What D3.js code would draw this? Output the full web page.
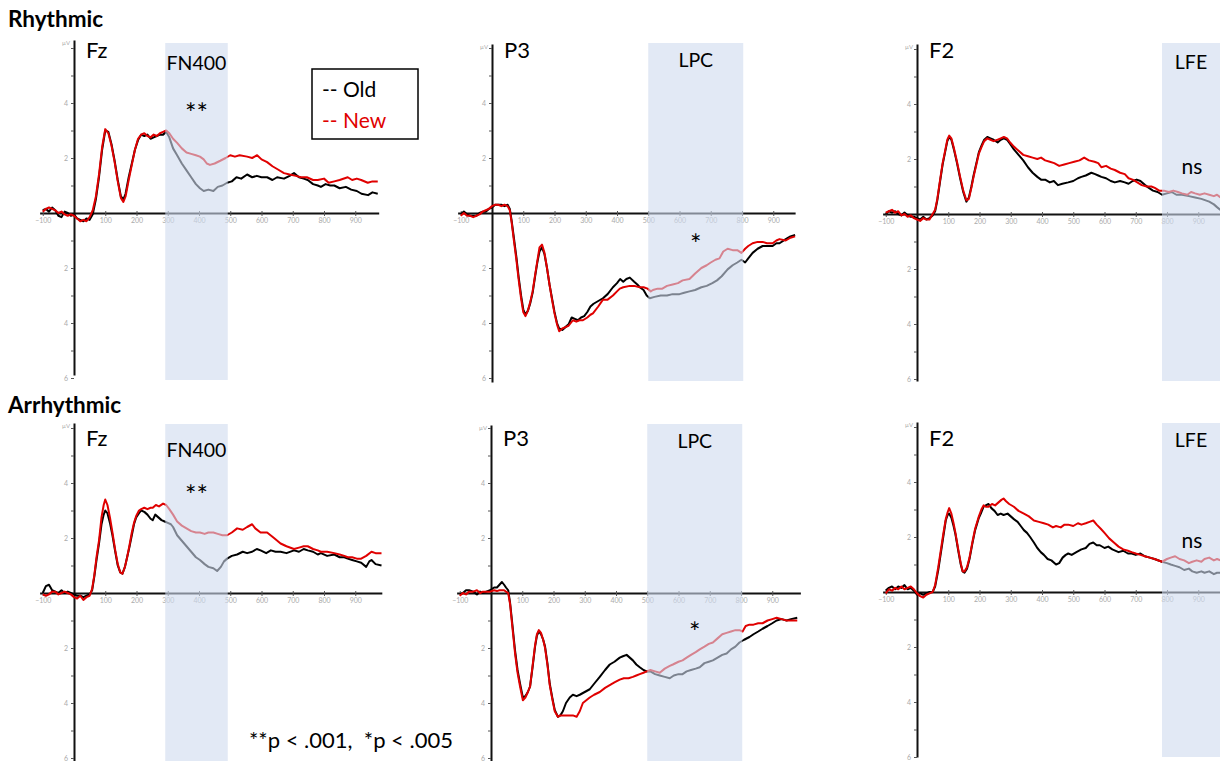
<!DOCTYPE html>
<html>
<head>
<meta charset="utf-8">
<script src="https://cdn.jsdelivr.net/npm/d3@7"></script>
<style>
  body { margin: 0; background: #fff; }
  text { font-family: Lato, "Open Sans", sans-serif; white-space: pre; }
</style>
</head>
<body>
<svg id="chart" width="1220" height="761"></svg>
<script>
// ---- data (ms, µV) ----
const rows = ["Rhythmic", "Arrhythmic"];
const electrodes = ["Fz", "P3", "F2"];
const components = ["FN400", "LPC", "LFE"];
const marks = ["**", "*", "ns"];
const legendLabels = ["-- Old", "-- New"];
const footnote = "**p < .001,  *p < .005";
const xTicks = [-100, 100, 200, 300, 400, 500, 600, 700, 800, 900];
const yTicks = [-6, -5, -4, -3, -2, -1, 1, 2, 3, 4, 5, 6];
const yLabelled = [4, 2, -2, -4, -6];

const fzRhyOld = [[-100,0.1],[-90,0.15],[-80,0.05],[-70,0.2],[-60,0.1],[-50,-0.1],[-40,-0.15],[-30,0.05],[-20,0.0],[-10,-0.1],[0,-0.05],[10,-0.2],[20,-0.25],[30,-0.3],[40,-0.2],[50,-0.25],[60,-0.05],[70,0.5],[80,1.3],[90,2.3],[100,3.0],[110,2.95],[120,2.5],[130,1.9],[140,1.2],[150,0.6],[158,0.5],[165,0.7],[175,1.3],[185,1.8],[195,2.3],[205,2.65],[215,2.85],[225,2.8],[235,2.85],[245,2.7],[255,2.75],[265,2.8],[275,2.85],[285,2.85],[295,2.95],[305,2.75],[317,2.35],[330,2.1],[345,1.8],[360,1.55],[375,1.3],[390,1.05],[403,0.9],[415,0.8],[430,0.85],[446,0.8],[460,0.95],[475,1.0],[490,1.1],[505,1.15],[520,1.3],[535,1.25],[554,1.4],[570,1.3],[585,1.35],[600,1.3],[618,1.3],[635,1.2],[650,1.3],[672,1.25],[690,1.35],[704,1.45],[720,1.3],[735,1.25],[748,1.2],[765,1.05],[780,1.0],[790,0.95],[805,1.05],[820,1.0],[833,1.0],[850,0.9],[870,0.95],[887,0.85],[905,0.8],[920,0.7],[941,0.65],[955,0.75],[972,0.7]];
const fzRhyNew = [[-100,0.05],[-90,0.15],[-80,0.2],[-70,0.15],[-60,0.1],[-50,0.0],[-40,0.05],[-30,-0.05],[-20,-0.1],[-10,-0.05],[0,-0.1],[10,-0.2],[20,-0.3],[30,-0.25],[40,-0.3],[50,-0.15],[60,0.1],[70,0.6],[80,1.4],[90,2.4],[100,3.05],[110,2.9],[120,2.45],[130,1.85],[140,1.15],[150,0.55],[158,0.4],[165,0.6],[175,1.2],[185,1.75],[195,2.3],[205,2.7],[215,2.85],[225,2.9],[235,2.8],[245,2.75],[255,2.85],[265,2.8],[275,2.9],[285,2.95],[295,3.0],[305,2.9],[317,2.7],[330,2.55],[345,2.35],[360,2.2],[375,2.15],[390,2.1],[403,2.05],[415,1.95],[425,1.8],[435,1.75],[450,1.8],[468,1.9],[485,2.0],[500,2.1],[515,2.05],[530,2.1],[554,2.05],[570,2.0],[586,2.1],[600,1.95],[618,1.85],[635,1.7],[650,1.6],[672,1.45],[690,1.4],[710,1.35],[726,1.3],[745,1.3],[765,1.2],[780,1.2],[800,1.25],[815,1.1],[833,1.15],[850,1.2],[876,1.3],[890,1.2],[905,1.25],[919,1.2],[940,1.1],[955,1.15],[972,1.15]];

const p3RhyOld = [[-100,-0.05],[-90,0.05],[-80,-0.05],[-70,-0.1],[-60,-0.1],[-50,-0.1],[-40,0.0],[-30,0.05],[-20,0.05],[-10,0.15],[0,0.2],[10,0.3],[20,0.3],[30,0.3],[40,0.25],[50,0.3],[57,0.15],[63,-0.3],[70,-0.9],[78,-1.6],[85,-2.3],[93,-3.0],[100,-3.5],[107,-3.7],[115,-3.55],[122,-3.3],[130,-2.9],[138,-2.3],[145,-1.8],[152,-1.4],[160,-1.25],[168,-1.5],[176,-2.0],[184,-2.6],[192,-3.1],[200,-3.6],[208,-4.0],[215,-4.2],[225,-4.25],[235,-4.15],[245,-4.05],[255,-3.8],[265,-3.85],[275,-3.9],[285,-3.8],[295,-3.75],[305,-3.6],[315,-3.4],[325,-3.3],[340,-3.2],[355,-3.1],[370,-2.95],[387,-2.7],[400,-2.55],[410,-2.4],[420,-2.5],[430,-2.4],[441,-2.35],[455,-2.5],[465,-2.6],[473,-2.7],[485,-2.8],[495,-3.0],[505,-3.1],[520,-3.05],[540,-3.0],[560,-3.0],[578,-2.95],[600,-2.95],[615,-2.9],[632,-2.85],[650,-2.8],[670,-2.7],[687,-2.65],[705,-2.55],[720,-2.45],[735,-2.3],[754,-2.05],[770,-1.9],[785,-1.8],[798,-1.7],[810,-1.8],[820,-1.65],[834,-1.45],[850,-1.3],[866,-1.2],[880,-1.2],[898,-1.2],[910,-1.1],[920,-1.1],[940,-0.95],[955,-0.85],[970,-0.8]];
const p3RhyNew = [[-100,-0.1],[-90,0.0],[-80,-0.1],[-70,-0.1],[-60,-0.15],[-50,-0.1],[-40,-0.05],[-30,0.05],[-20,0.1],[-10,0.15],[0,0.25],[10,0.3],[20,0.3],[30,0.25],[40,0.3],[50,0.25],[57,0.1],[63,-0.35],[70,-1.0],[78,-1.7],[85,-2.4],[93,-3.1],[100,-3.6],[107,-3.75],[115,-3.55],[122,-3.25],[130,-2.85],[138,-2.25],[145,-1.75],[152,-1.25],[160,-1.15],[168,-1.45],[176,-2.0],[184,-2.6],[192,-3.15],[200,-3.65],[208,-4.05],[215,-4.3],[225,-4.2],[235,-4.15],[245,-4.1],[259,-3.9],[270,-3.95],[280,-3.9],[291,-3.9],[305,-3.8],[315,-3.7],[323,-3.65],[340,-3.4],[355,-3.15],[370,-3.15],[387,-3.0],[400,-2.85],[409,-2.75],[420,-2.7],[441,-2.65],[455,-2.65],[473,-2.7],[485,-2.7],[498,-2.75],[508,-2.85],[515,-2.8],[530,-2.75],[545,-2.75],[560,-2.65],[578,-2.6],[595,-2.55],[610,-2.45],[632,-2.4],[650,-2.2],[670,-2.0],[687,-1.9],[700,-1.8],[715,-1.7],[728,-1.65],[740,-1.4],[754,-1.3],[770,-1.35],[785,-1.35],[798,-1.45],[810,-1.3],[820,-1.2],[834,-1.1],[850,-1.05],[866,-1.05],[880,-1.1],[898,-1.1],[910,-1.0],[920,-0.95],[940,-1.0],[955,-0.9],[970,-0.85]];

const f2RhyOld = [[-100,0.0],[-90,0.1],[-80,0.05],[-70,0.1],[-60,0.0],[-50,-0.05],[-40,0.05],[-30,-0.05],[-20,-0.1],[-10,-0.1],[0,-0.15],[10,-0.2],[20,-0.1],[30,-0.2],[40,-0.15],[50,-0.05],[58,0.1],[65,0.5],[74,1.2],[82,1.8],[90,2.25],[97,2.65],[103,2.8],[110,2.7],[118,2.35],[128,1.85],[138,1.3],[148,0.8],[158,0.45],[166,0.6],[174,1.0],[181,1.4],[190,1.85],[198,2.25],[207,2.5],[215,2.7],[225,2.8],[235,2.75],[245,2.7],[258,2.6],[268,2.7],[278,2.75],[288,2.7],[298,2.55],[310,2.35],[325,2.15],[340,1.95],[355,1.7],[370,1.5],[385,1.35],[397,1.25],[410,1.25],[425,1.15],[438,1.2],[451,1.05],[465,1.1],[484,1.15],[500,1.2],[515,1.3],[526,1.35],[540,1.4],[558,1.5],[570,1.45],[580,1.4],[590,1.35],[605,1.3],[620,1.2],[633,1.15],[650,1.2],[665,1.15],[677,1.1],[690,1.2],[703,1.25],[715,1.2],[730,1.05],[742,0.95],[755,0.85],[770,0.8],[784,0.7],[800,0.75],[815,0.8],[830,0.7],[848,0.7],[870,0.65],[890,0.6],[910,0.55],[935,0.45],[950,0.35],[960,0.25],[971,0.15]];
const f2RhyNew = [[-100,0.05],[-90,0.1],[-80,0.15],[-70,0.05],[-60,0.1],[-50,-0.05],[-40,0.0],[-30,-0.1],[-20,-0.05],[-10,-0.15],[0,-0.2],[10,-0.25],[20,-0.15],[30,-0.2],[40,-0.2],[50,0.0],[58,0.15],[65,0.55],[74,1.25],[82,1.85],[90,2.3],[97,2.7],[103,2.85],[110,2.75],[118,2.4],[128,1.9],[138,1.35],[148,0.85],[158,0.5],[166,0.55],[174,0.95],[181,1.35],[190,1.8],[198,2.2],[207,2.45],[215,2.65],[225,2.75],[235,2.7],[245,2.65],[258,2.7],[268,2.75],[278,2.8],[288,2.75],[298,2.6],[310,2.45],[325,2.3],[340,2.15],[355,2.1],[370,2.05],[385,2.0],[397,2.05],[410,1.95],[425,1.9],[439,1.85],[455,1.75],[471,1.8],[487,1.85],[503,1.9],[520,1.95],[535,2.05],[550,1.95],[568,1.9],[580,1.85],[590,1.7],[605,1.75],[620,1.65],[633,1.6],[650,1.5],[665,1.45],[677,1.3],[690,1.25],[705,1.15],[719,1.05],[735,1.0],[750,1.0],[761,0.95],[775,0.85],[790,0.85],[806,0.8],[820,0.85],[835,0.8],[848,0.75],[865,0.7],[877,0.8],[890,0.75],[905,0.7],[920,0.75],[935,0.7],[950,0.65],[960,0.7],[971,0.6]];

const fzArrOld = [[-100,0.0],[-90,0.25],[-80,0.3],[-70,0.1],[-60,0.05],[-50,0.0],[-40,0.1],[-30,0.0],[-20,0.05],[-10,0.0],[0,-0.05],[10,-0.1],[20,-0.1],[30,-0.15],[40,-0.1],[50,-0.05],[58,0.1],[65,0.6],[72,1.2],[80,1.8],[88,2.5],[95,2.85],[100,3.0],[107,2.9],[115,2.55],[123,2.1],[132,1.5],[140,1.0],[148,0.75],[155,0.7],[163,0.95],[170,1.3],[177,1.65],[185,2.1],[192,2.5],[199,2.75],[208,2.9],[215,3.0],[225,2.95],[235,2.85],[245,2.7],[252,2.65],[260,2.85],[270,2.75],[280,2.65],[290,2.6],[300,2.55],[310,2.5],[317,2.4],[330,2.1],[345,1.9],[360,1.7],[375,1.5],[390,1.3],[403,1.2],[418,1.05],[430,0.95],[446,0.9],[458,0.8],[470,0.95],[480,1.15],[490,1.25],[505,1.35],[522,1.4],[540,1.5],[554,1.45],[570,1.5],[585,1.6],[597,1.55],[615,1.45],[630,1.55],[645,1.5],[661,1.5],[680,1.45],[704,1.55],[720,1.5],[735,1.6],[748,1.55],[765,1.5],[780,1.4],[790,1.45],[810,1.35],[833,1.4],[850,1.3],[865,1.3],[876,1.25],[890,1.2],[905,1.15],[919,1.1],[935,0.95],[945,1.15],[952,1.2],[965,1.05],[984,1.0]];
const fzArrNew = [[-100,-0.05],[-90,-0.1],[-80,-0.05],[-70,0.05],[-60,0.05],[-50,-0.05],[-40,0.0],[-30,0.05],[-20,0.0],[-10,-0.05],[0,-0.15],[10,-0.2],[20,-0.1],[30,-0.25],[40,-0.15],[50,-0.1],[58,0.15],[65,0.65],[72,1.3],[80,1.9],[88,2.75],[95,3.2],[100,3.4],[107,3.2],[115,2.75],[123,2.2],[132,1.55],[140,1.05],[148,0.75],[155,0.7],[163,0.95],[170,1.3],[177,1.7],[185,2.2],[192,2.55],[199,2.8],[208,3.0],[215,3.05],[225,3.1],[235,3.05],[245,3.1],[252,3.1],[262,3.2],[272,3.15],[285,3.25],[295,3.2],[305,3.05],[317,2.85],[330,2.6],[345,2.45],[360,2.35],[375,2.25],[390,2.2],[403,2.2],[418,2.15],[430,2.2],[446,2.2],[460,2.15],[475,2.1],[490,2.1],[505,2.2],[522,2.35],[540,2.3],[554,2.4],[570,2.5],[580,2.35],[597,2.2],[618,2.2],[640,2.0],[661,1.8],[680,1.7],[704,1.6],[720,1.65],[735,1.7],[748,1.7],[765,1.6],[780,1.55],[790,1.5],[810,1.5],[833,1.45],[850,1.4],[865,1.35],[876,1.3],[890,1.3],[905,1.25],[919,1.25],[935,1.35],[952,1.5],[965,1.45],[984,1.45]];

const p3ArrOld = [[-100,-0.05],[-90,0.0],[-80,0.1],[-70,0.1],[-57,0.05],[-45,-0.05],[-35,0.05],[-26,0.0],[-15,0.05],[-3,0.1],[10,0.2],[19,0.2],[27,0.3],[35,0.4],[42,0.3],[48,0.2],[55,0.1],[61,-0.35],[68,-1.1],[77,-2.1],[85,-2.8],[93,-3.3],[102,-3.8],[110,-3.75],[118,-3.6],[125,-3.4],[133,-2.7],[141,-1.95],[147,-1.55],[153,-1.4],[160,-1.5],[167,-1.7],[173,-1.95],[181,-2.6],[188,-3.3],[196,-3.8],[204,-4.25],[214,-4.5],[222,-4.45],[230,-4.3],[240,-4.0],[252,-3.8],[262,-3.7],[274,-3.75],[284,-3.7],[300,-3.6],[316,-3.5],[330,-3.3],[348,-3.05],[365,-2.8],[380,-2.6],[395,-2.5],[412,-2.35],[422,-2.3],[434,-2.25],[444,-2.35],[454,-2.45],[465,-2.6],[476,-2.7],[488,-2.8],[498,-2.85],[510,-2.85],[525,-2.95],[540,-3.0],[556,-3.05],[572,-3.1],[585,-3.0],[600,-2.95],[613,-2.95],[626,-2.85],[640,-2.8],[655,-2.75],[668,-2.7],[683,-2.55],[697,-2.5],[710,-2.45],[725,-2.35],[740,-2.25],[754,-2.2],[768,-2.05],[782,-1.95],[795,-1.8],[810,-1.7],[827,-1.6],[840,-1.5],[855,-1.4],[869,-1.3],[885,-1.2],[900,-1.1],[914,-1.0],[930,-0.95],[946,-1.0],[960,-0.95],[980,-0.9]];
const p3ArrNew = [[-100,-0.1],[-90,0.0],[-80,-0.05],[-70,0.05],[-57,0.05],[-45,0.1],[-35,0.0],[-26,0.05],[-15,0.05],[-3,0.05],[10,0.1],[19,0.07],[27,0.1],[35,0.1],[42,0.1],[48,0.05],[55,0.0],[61,-0.4],[68,-1.2],[77,-2.2],[85,-2.9],[93,-3.4],[102,-3.9],[110,-3.8],[118,-3.6],[125,-3.4],[133,-2.65],[141,-1.9],[147,-1.5],[153,-1.35],[160,-1.45],[167,-1.7],[173,-2.0],[181,-2.65],[188,-3.35],[196,-3.85],[204,-4.3],[214,-4.5],[222,-4.45],[230,-4.45],[240,-4.45],[252,-4.45],[262,-4.45],[274,-4.5],[284,-4.3],[294,-4.0],[305,-3.9],[316,-3.8],[330,-3.7],[348,-3.6],[365,-3.45],[380,-3.35],[395,-3.25],[412,-3.15],[425,-3.1],[440,-3.1],[454,-3.05],[465,-3.0],[476,-2.95],[488,-2.9],[498,-2.85],[510,-2.8],[525,-2.85],[540,-2.9],[556,-2.75],[572,-2.65],[582,-2.6],[600,-2.5],[613,-2.45],[626,-2.35],[640,-2.25],[655,-2.15],[668,-2.05],[683,-1.95],[697,-1.85],[710,-1.8],[725,-1.65],[740,-1.5],[754,-1.45],[768,-1.4],[782,-1.35],[795,-1.35],[805,-1.4],[815,-1.2],[827,-1.15],[840,-1.15],[855,-1.1],[869,-1.1],[885,-1.0],[900,-0.95],[914,-0.9],[930,-0.95],[946,-1.0],[960,-1.0],[980,-1.0]];

const f2ArrOld = [[-100,0.05],[-90,0.15],[-80,0.2],[-70,0.1],[-60,0.2],[-50,0.15],[-40,0.25],[-30,0.1],[-20,0.15],[-10,0.05],[0,-0.1],[10,-0.05],[20,-0.1],[30,-0.05],[40,0.0],[50,0.0],[58,0.2],[68,0.8],[76,1.4],[84,2.0],[92,2.6],[98,2.8],[103,2.85],[110,2.7],[117,2.4],[123,2.1],[132,1.5],[140,1.0],[146,0.75],[152,0.7],[160,0.85],[168,1.2],[177,1.75],[186,2.25],[198,2.7],[206,2.9],[213,3.1],[220,3.15],[229,3.2],[238,3.05],[248,2.95],[258,2.8],[268,2.85],[277,2.8],[290,2.85],[300,2.75],[310,2.65],[322,2.55],[332,2.4],[342,2.25],[352,2.15],[362,2.0],[374,1.8],[385,1.6],[396,1.45],[406,1.35],[418,1.2],[430,1.15],[445,1.0],[455,1.05],[466,1.25],[476,1.35],[484,1.4],[495,1.35],[510,1.45],[526,1.55],[540,1.6],[552,1.75],[564,1.8],[575,1.7],[585,1.7],[600,1.6],[612,1.65],[625,1.55],[645,1.45],[660,1.5],[675,1.4],[687,1.4],[700,1.35],[715,1.4],[729,1.3],[745,1.25],[760,1.2],[784,1.1],[800,1.05],[812,1.0],[826,0.95],[840,0.9],[855,0.8],[870,0.85],[881,0.75],[895,0.7],[910,0.75],[920,0.7],[935,0.75],[950,0.65],[960,0.7],[971,0.7]];
const f2ArrNew = [[-100,-0.05],[-90,0.1],[-80,0.05],[-70,0.15],[-60,0.1],[-50,0.2],[-40,0.1],[-30,0.15],[-20,0.2],[-10,0.1],[0,-0.05],[10,-0.15],[20,-0.2],[30,-0.1],[40,-0.05],[50,0.0],[58,0.25],[68,0.9],[76,1.5],[84,2.1],[92,2.65],[98,2.9],[103,3.05],[110,2.85],[117,2.5],[123,2.15],[132,1.55],[140,1.05],[146,0.75],[152,0.75],[160,0.9],[168,1.25],[177,1.8],[186,2.3],[198,2.75],[206,3.0],[213,3.15],[220,3.1],[229,3.1],[240,3.2],[250,3.15],[260,3.25],[270,3.35],[277,3.4],[285,3.3],[295,3.2],[310,3.1],[325,2.95],[342,2.85],[358,2.75],[374,2.6],[390,2.55],[406,2.5],[420,2.45],[435,2.35],[445,2.4],[460,2.35],[472,2.45],[484,2.45],[500,2.4],[515,2.5],[526,2.45],[540,2.5],[552,2.55],[564,2.6],[575,2.45],[588,2.3],[600,2.15],[615,1.95],[630,1.8],[645,1.65],[660,1.55],[675,1.5],[687,1.45],[700,1.4],[715,1.35],[729,1.3],[745,1.25],[760,1.2],[784,1.1],[800,1.2],[812,1.25],[826,1.3],[840,1.2],[855,1.15],[870,1.05],[881,1.1],[895,1.15],[910,1.1],[920,1.2],[935,1.25],[950,1.15],[960,1.2],[971,1.15]];

// analysis windows (ms) as shaded in the figure
const windows = [[292, 492], [500, 804], [784, 1000]];

const seriesTable = [
  [fzRhyOld, fzRhyNew], [p3RhyOld, p3RhyNew], [f2RhyOld, f2RhyNew],
  [fzArrOld, fzArrNew], [p3ArrOld, p3ArrNew], [f2ArrOld, f2ArrNew]
];

// ---- layout (pixels) ----
const pxPerMs = 0.3125, pxPerUv = 27.5;
const colours = ["#000000", "#e00000"];
const layout = [
  { left: 74,  zero: 213, top: 40,  bottom: 375, tEnd: 975, shadeTop: 43,  shadeBottom: 380, markY: 123, labelY: 58,  compY: 70 },
  { left: 492, zero: 213, top: 44,  bottom: 382, tEnd: 970, shadeTop: 43,  shadeBottom: 381, markY: 254, labelY: 58,  compY: 67 },
  { left: 917, zero: 214, top: 44,  bottom: 381, tEnd: 975, shadeTop: 43,  shadeBottom: 381, markY: 174, labelY: 58,  compY: 69 },
  { left: 74,  zero: 593, top: 423, bottom: 761, tEnd: 985, shadeTop: 424, shadeBottom: 761, markY: 505, labelY: 446, compY: 457 },
  { left: 491, zero: 593, top: 425, bottom: 761, tEnd: 990, shadeTop: 424, shadeBottom: 761, markY: 642, labelY: 446, compY: 448 },
  { left: 917, zero: 592, top: 422, bottom: 757, tEnd: 975, shadeTop: 423, shadeBottom: 757, markY: 548, labelY: 446, compY: 447 }
];

const svg = d3.select("#chart");

layout.forEach((p, i) => {
  const col = i % 3;
  const g = svg.append("g");

  const x = d3.scaleLinear()
    .domain([-110, p.tEnd])
    .range([p.left - 110 * pxPerMs, p.left + p.tEnd * pxPerMs]);
  const y = d3.scaleLinear()
    .domain([-1, 1])
    .range([p.zero + pxPerUv, p.zero - pxPerUv]);
  y.domain([y.invert(p.bottom), y.invert(p.top)]).range([p.bottom, p.top]);

  // x axis through zero
  const xAxis = g.append("g")
    .attr("transform", `translate(0,${p.zero})`)
    .call(d3.axisBottom(x).tickValues(xTicks).tickSize(3).tickSizeOuter(0).tickFormat(d3.format("d")));
  xAxis.select(".domain").attr("stroke", "#111").attr("stroke-width", 2);
  xAxis.selectAll(".tick line").attr("stroke", "#555").attr("y1", -2);
  xAxis.selectAll(".tick text").attr("fill", "#aaa").attr("font-size", 7).attr("dy", "0.5em");

  // y axis at stimulus onset
  const yAxis = g.append("g")
    .attr("transform", `translate(${p.left},0)`)
    .call(d3.axisLeft(y).tickValues(yTicks).tickSize(3).tickSizeOuter(0)
      .tickFormat(d => yLabelled.includes(d) ? Math.abs(d) : ""));
  yAxis.select(".domain").attr("stroke", "#111").attr("stroke-width", 2);
  yAxis.selectAll(".tick line").attr("stroke", "#555");
  yAxis.selectAll(".tick text").attr("fill", "#aaa").attr("font-size", 7);
  g.append("text")
    .attr("x", p.left - 4).attr("y", p.top + 5)
    .attr("text-anchor", "end")
    .attr("font-size", 6).attr("fill", "#aaa")
    .text("µV");

  // waveforms: old then new
  const line = d3.line().x(d => x(d[0])).y(d => y(d[1]));
  seriesTable[i].forEach((s, k) => {
    g.append("path")
      .datum(s)
      .attr("fill", "none")
      .attr("stroke", colours[k])
      .attr("stroke-width", 2)
      .attr("stroke-linejoin", "round")
      .attr("d", line);
  });

  // shaded analysis window, drawn over the traces
  const w = windows[col];
  const x0 = p.left + w[0] * pxPerMs;
  const x1 = Math.min(1220, p.left + w[1] * pxPerMs);
  g.append("rect")
    .attr("x", x0).attr("y", p.shadeTop)
    .attr("width", x1 - x0).attr("height", p.shadeBottom - p.shadeTop)
    .attr("fill", "rgb(207,218,238)")
    .attr("fill-opacity", 0.6);

  // labels
  g.append("text")
    .attr("x", p.left + 12).attr("y", p.labelY)
    .attr("font-size", 22)
    .text(electrodes[col]);
  g.append("text")
    .attr("x", (x0 + x1) / 2).attr("y", p.compY)
    .attr("text-anchor", "middle")
    .attr("font-size", 19.5)
    .text(components[col]);
  g.append("text")
    .attr("x", col === 2 ? 1192 : (x0 + x1) / 2).attr("y", p.markY)
    .attr("text-anchor", "middle")
    .attr("font-size", col === 2 ? 21 : 27)
    .text(marks[col]);
});

// row titles
rows.forEach((r, i) => {
  svg.append("text")
    .attr("x", 8).attr("y", i === 0 ? 27 : 413)
    .attr("font-size", 22.5)
    .attr("font-weight", "bold")
    .text(r);
});

// legend
const legend = svg.append("g").attr("transform", "translate(312,69)");
legend.append("rect")
  .attr("width", 106).attr("height", 70)
  .attr("fill", "#fff").attr("stroke", "#000").attr("stroke-width", 1.5);
legendLabels.forEach((l, k) => {
  legend.append("text")
    .attr("x", 10).attr("y", 28 + k * 31)
    .attr("font-size", 21)
    .attr("fill", colours[k])
    .text(l);
});

// footnote
svg.append("text")
  .attr("x", 249).attr("y", 748)
  .attr("font-size", 22)
  .text(footnote);
</script>
</body>
</html>
